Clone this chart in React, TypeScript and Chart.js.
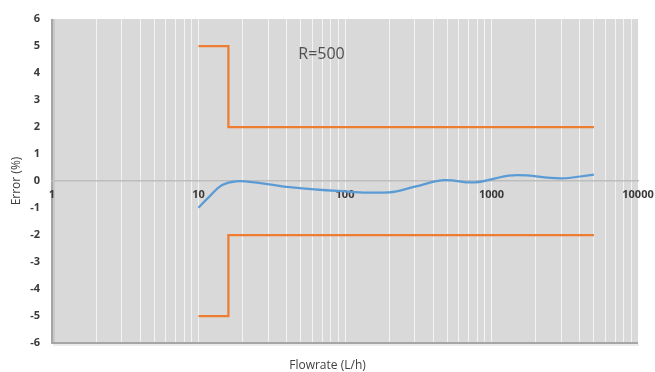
import React, { useEffect, useRef } from "react";
import { Chart, registerables } from "chart.js";

Chart.register(...registerables);

// ---- data ----
const decades = [1, 10, 100, 1000];
const multiples = [1, 2, 3, 4, 5, 6, 7, 8, 9];
const xLabelValues = [1, 10, 100, 1000, 10000];
const yTickValues = [-6, -5, -4, -3, -2, -1, 0, 1, 2, 3, 4, 5, 6];

const limitFlow = [10, 16, 16, 5000];
const upperLimit = [5, 5, 2, 2];
const lowerLimit = [-5, -5, -2, -2];

const measuredFlow = [10, 12, 14.5, 18, 25, 42, 88, 200, 300, 470, 770, 1400, 3000, 5000];
const measuredError = [-0.99, -0.55, -0.15, -0.01, -0.06, -0.23, -0.37, -0.42, -0.21, 0.03, -0.05, 0.21, 0.1, 0.24];

const noteText = "R=500";
const noteFlow = 48;
const noteError = 4.67;

const xTitle = "Flowrate (L/h)";
const yTitle = "Error (%)";

const gridValues: number[] = [];
decades.forEach((d) => multiples.forEach((m) => gridValues.push(d * m)));
gridValues.push(10000);

const FONT = "'Open Sans', 'DejaVu Sans', sans-serif";

const framePlugin = {
  id: "frame",
  beforeDraw(chart: any) {
    const { ctx, chartArea: a } = chart;
    ctx.save();
    ctx.fillStyle = "#d9d9d9";
    ctx.fillRect(a.left, a.top, a.right - a.left, a.bottom - a.top);
    // left border with soft shadow
    ctx.strokeStyle = "rgba(0,0,0,0.08)";
    ctx.lineWidth = 2;
    ctx.beginPath();
    ctx.moveTo(a.left + 2, a.top);
    ctx.lineTo(a.left + 2, a.bottom);
    ctx.stroke();
    ctx.strokeStyle = "#a6a6a6";
    ctx.lineWidth = 2;
    ctx.beginPath();
    ctx.moveTo(a.left, a.top);
    ctx.lineTo(a.left, a.bottom);
    ctx.stroke();
    ctx.restore();
  },
  afterDraw(chart: any) {
    const { ctx, chartArea: a, scales } = chart;
    ctx.save();
    // bottom border with soft shadow
    ctx.strokeStyle = "rgba(0,0,0,0.08)";
    ctx.lineWidth = 2;
    ctx.beginPath();
    ctx.moveTo(a.left + 1, a.bottom + 2);
    ctx.lineTo(a.right + 1, a.bottom + 2);
    ctx.stroke();
    ctx.strokeStyle = "#a6a6a6";
    ctx.lineWidth = 2;
    ctx.beginPath();
    ctx.moveTo(a.left - 1, a.bottom);
    ctx.lineTo(a.right, a.bottom);
    ctx.stroke();

    // axis titles
    ctx.fillStyle = "#404040";
    ctx.font = `12px ${FONT}`;
    ctx.textAlign = "center";
    ctx.textBaseline = "middle";
    ctx.fillText(xTitle, chart.width / 2, 366);
    ctx.save();
    ctx.translate(17, (a.top + a.bottom) / 2);
    ctx.rotate(-Math.PI / 2);
    ctx.fillText(yTitle, 0, 0);
    ctx.restore();

    // annotation
    ctx.fillStyle = "#505050";
    ctx.font = `16px ${FONT}`;
    ctx.textAlign = "left";
    ctx.fillText(noteText, scales.x.getPixelForValue(noteFlow), scales.y.getPixelForValue(noteError));
    ctx.restore();
  },
};

export default function App() {
  const ref = useRef<HTMLCanvasElement | null>(null);

  useEffect(() => {
    if (!ref.current) return;
    const toPts = (xs: number[], ys: number[]) => xs.map((x, i) => ({ x, y: ys[i] }));
    const chart = new Chart(ref.current, {
      type: "scatter",
      data: {
        datasets: [
          {
            label: "upper",
            data: toPts(limitFlow, upperLimit),
            showLine: true,
            borderColor: "#ed7d31",
            borderWidth: 2.25,
            pointRadius: 0,
            borderJoinStyle: "miter",
            tension: 0,
          },
          {
            label: "lower",
            data: toPts(limitFlow, lowerLimit),
            showLine: true,
            borderColor: "#ed7d31",
            borderWidth: 2.25,
            pointRadius: 0,
            borderJoinStyle: "miter",
            tension: 0,
          },
          {
            label: "error",
            data: toPts(measuredFlow, measuredError),
            showLine: true,
            borderColor: "#5b9bd5",
            borderWidth: 2.25,
            pointRadius: 0,
            tension: 0.4,
          },
        ],
      },
      options: {
        animation: false,
        responsive: false,
        layout: { padding: { top: 19, right: 17, bottom: 29, left: 0 } },
        plugins: { legend: { display: false }, tooltip: { enabled: false } },
        scales: {
          x: {
            type: "logarithmic",
            min: 1,
            max: 10000,
            position: { y: 0 } as any,
            afterBuildTicks: (scale: any) => {
              scale.ticks = gridValues.map((v) => ({ value: v, major: xLabelValues.includes(v) }));
            },
            afterFit: (scale: any) => {
              scale.paddingLeft = 0;
              scale.paddingRight = 0;
            },
            ticks: {
              autoSkip: false,
              maxRotation: 0,
              padding: 7,
              color: "#3a3a3a",
              font: { family: FONT, size: 11, weight: "bold" },
              callback: (v: any) => (xLabelValues.includes(Number(v)) ? String(v) : ""),
            },
            grid: {
              color: (c: any) => (c.tick && c.tick.value === 1 ? "rgba(0,0,0,0)" : "rgba(255,255,255,0.7)"),
              lineWidth: 1,
              drawTicks: false,
            },
            border: { color: "#bdbdbd", width: 1.5 },
          },
          y: {
            type: "linear",
            min: -6,
            max: 6,
            afterBuildTicks: (scale: any) => {
              scale.ticks = yTickValues.map((v) => ({ value: v }));
            },
            afterFit: (scale: any) => {
              scale.width = 52;
            },
            ticks: {
              padding: 12,
              color: "#3a3a3a",
              font: { family: FONT, size: 11, weight: "bold" },
            },
            grid: { display: false, drawTicks: false },
            border: { display: false },
          },
        },
      },
      plugins: [framePlugin],
    } as any);
    return () => chart.destroy();
  }, []);

  return (
    <div style={{ position: "fixed", left: 0, top: 0, width: 655, height: 372, background: "#fff" }}>
      <canvas ref={ref} width={655} height={372} style={{ display: "block" }} />
    </div>
  );
}
